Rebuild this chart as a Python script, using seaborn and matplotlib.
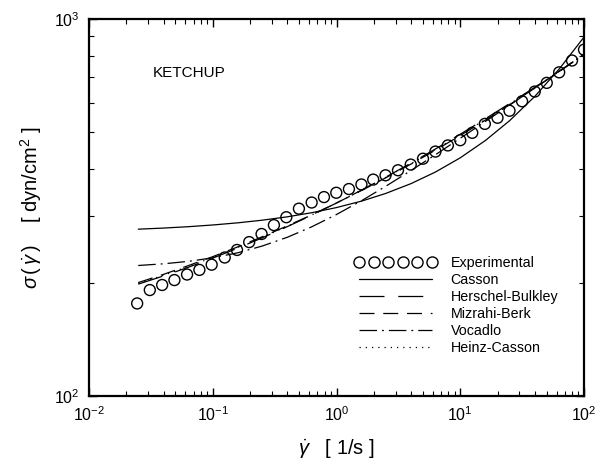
import numpy as np
import pandas as pd
import matplotlib
matplotlib.use("Agg")
import matplotlib.pyplot as plt
import seaborn as sns
from matplotlib.lines import Line2D
from matplotlib.ticker import NullFormatter

# ---------------- data ----------------
exp_rate = [0.0245, 0.031, 0.039, 0.049, 0.062, 0.078, 0.098, 0.125, 0.157, 0.197,
            0.248, 0.312, 0.393, 0.497, 0.63, 0.792, 0.996, 1.26, 1.59, 1.98,
            2.49, 3.14, 3.98, 5.0, 6.3, 7.94, 10.0, 12.5, 15.8, 20.0,
            25.0, 31.6, 40.0, 50.0, 63.0, 80.0, 100.0]
exp_stress = [176, 191, 197, 203, 210, 216, 223, 233, 244, 256,
              269, 284, 298, 314, 326, 337, 346, 354, 364, 375,
              385, 397, 411, 426, 445, 462, 477, 499, 527, 547,
              571, 605, 642, 677, 722, 776, 829]

model_rate = [0.025, 0.04, 0.063, 0.1, 0.16, 0.25, 0.4, 0.63, 1.0, 1.6,
              2.5, 4.0, 6.3, 10.0, 16.0, 25.0, 40.0, 63.0, 100.0]
casson = [277, 278.9, 281.2, 284.2, 288, 292.6, 298.7, 306.3, 316.1, 328.9,
          344.6, 365.9, 392.7, 428.3, 476.4, 537.1, 623.1, 736.6, 895.2]
herschel_bulkley = [198, 208.2, 219.3, 232.1, 246.9, 262.6, 281.3, 301.6, 325, 351.9,
                    380.6, 414.8, 452, 494.7, 543.9, 596.5, 659, 727, 805]
mizrahi_berk = [199.9, 210.2, 221.5, 234.2, 248.8, 264.3, 282.6, 302.3, 325.1, 351.2,
                379.1, 412.3, 448.8, 490.8, 539.4, 592.2, 655.4, 725.2, 806.6]
vocadlo = [221.9, 224.2, 227.5, 232.5, 239.9, 249.8, 263.6, 281.0, 303.0, 329.9,
           360.0, 396.4, 436.5, 482.7, 535.1, 590.6, 655.9, 726.0, 805.3]
heinz_casson = [199, 209, 220.5, 233, 248, 263.5, 282, 302, 325, 351.5,
                380, 413.5, 450.5, 493, 541.5, 594.5, 657, 726, 806]

model_names = ["Casson", "Herschel-Bulkley", "Mizrahi-Berk", "Vocadlo", "Heinz-Casson"]
model_values = [casson, herschel_bulkley, mizrahi_berk, vocadlo, heinz_casson]

# ---------------- style ----------------
sns.set_style("ticks")
plt.rcParams["font.family"] = ["Liberation Sans", "DejaVu Sans"]
plt.rcParams["mathtext.fontset"] = "custom"
plt.rcParams["mathtext.rm"] = "Liberation Sans"
plt.rcParams["mathtext.it"] = "Liberation Sans:italic"
plt.rcParams["mathtext.bf"] = "Liberation Sans:bold"
for key in ["text.color", "axes.labelcolor", "xtick.color", "ytick.color", "axes.edgecolor"]:
    plt.rcParams[key] = "black"

fig = plt.figure(figsize=(6.04, 4.68), dpi=100)
ax = fig.add_axes([89 / 604, 1 - 396 / 468, 495 / 604, 377 / 468])

dash_map = {
    "Casson": "",
    "Herschel-Bulkley": (20, 11),
    "Mizrahi-Berk": (12, 7),
    "Vocadlo": (14, 4, 1.5, 4),
    "Heinz-Casson": (1, 4),
}

df_models = pd.DataFrame({
    "rate": np.tile(model_rate, len(model_names)),
    "stress": np.concatenate(model_values),
    "model": np.repeat(model_names, len(model_rate)),
})

sns.lineplot(data=df_models, x="rate", y="stress", style="model",
             style_order=model_names, dashes=dash_map, color="black",
             linewidth=0.9, legend=False, ax=ax, sort=True)

df_exp = pd.DataFrame({"rate": exp_rate, "stress": exp_stress})
sns.scatterplot(data=df_exp, x="rate", y="stress", marker="o", s=62,
                facecolor="none", edgecolor="black", linewidth=1.0,
                legend=False, ax=ax, zorder=3)

ax.set_xscale("log")
ax.set_yscale("log")
ax.set_xlim(1e-2, 1e2)
ax.set_ylim(1e2, 1e3)
ax.xaxis.set_minor_formatter(NullFormatter())
ax.yaxis.set_minor_formatter(NullFormatter())

for side in ["left", "right", "top", "bottom"]:
    ax.spines[side].set_linewidth(1.6)
    ax.spines[side].set_visible(True)

ax.tick_params(which="both", direction="in", top=True, right=True, labelsize=11.5)
ax.tick_params(which="major", length=6, width=1.0, pad=7)
ax.tick_params(which="minor", length=3.5, width=0.8)

ax.set_xlabel(r"$\dot{\gamma}$   [ 1/s ]", fontsize=14.5, labelpad=9)
ax.set_ylabel(r"$\sigma\,(\,\dot{\gamma}\,)$    [ dyn/cm$^2$ ]", fontsize=14.5, labelpad=7)

ax.text(0.129, 0.857, "KETCHUP", transform=ax.transAxes, fontsize=11,
        ha="left", va="center")

# legend
handles = [Line2D([], [], linestyle="none", marker="o", markersize=8,
                  markerfacecolor="none", markeredgecolor="black", markeredgewidth=1.0)]
for name in model_names:
    d = dash_map[name]
    h = Line2D([], [], color="black", linewidth=0.9)
    if d:
        h.set_dashes(d)
    handles.append(h)
labels = ["Experimental"] + model_names
ax.legend(handles, labels, loc="upper left", bbox_to_anchor=(0.537, 0.372),
          frameon=False, fontsize=10.3, numpoints=6, handlelength=5.7,
          handletextpad=1.0, labelspacing=0.22, borderpad=0, borderaxespad=0)

fig.savefig("out.png", dpi=100)
